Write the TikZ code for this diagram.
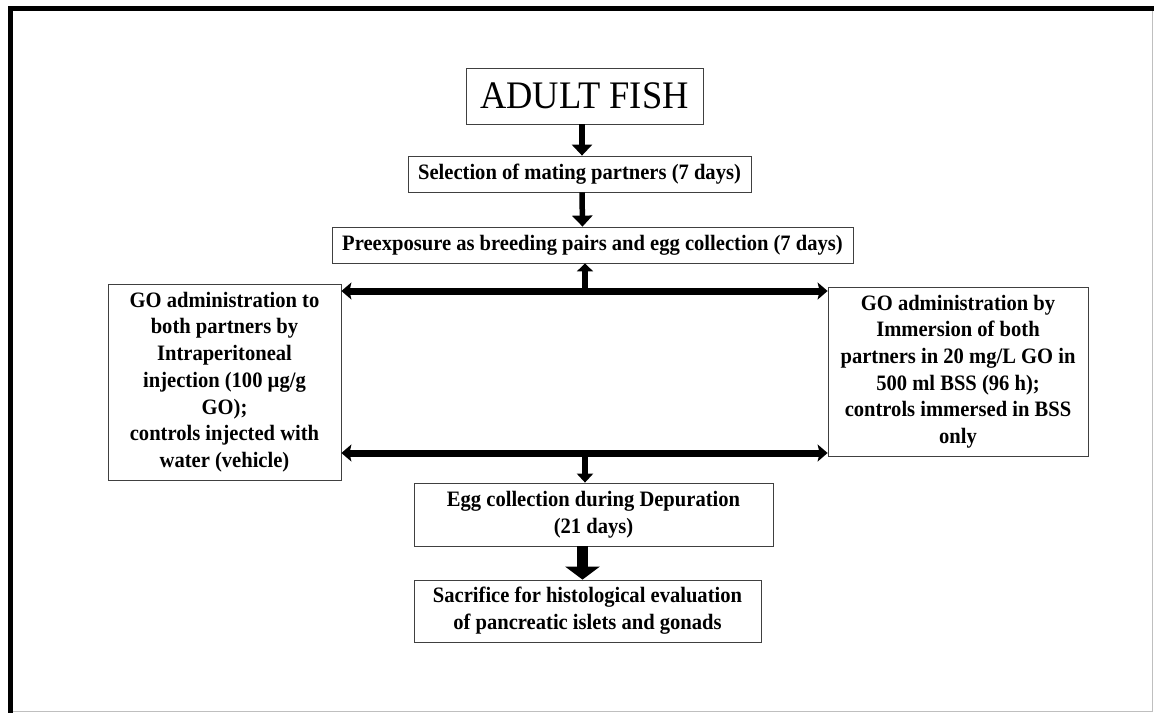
\documentclass[tikz,border=0pt]{standalone}
\usepackage{fontspec}
\setmainfont{Liberation Serif}[FakeStretch=0.935]
\usepackage{tikz}
\usetikzlibrary{arrows.meta,shapes}

\tikzset{
  stage/.style={draw=black!75,line width=0.8pt,shape=rectangle,align=center,inner sep=0pt,
    font=\fontsize{22}{26.7}\selectfont\bfseries},
  downarrow/.style={-{Triangle[length=11pt,width=20pt]},line width=5.5pt},
  bigarrow/.style={-{Triangle[length=13pt,width=34pt]},line width=11pt},
  splitarrow/.style={{Stealth[length=10pt,width=17pt,inset=2pt]}-{Stealth[length=10pt,width=17pt,inset=2pt]},line width=7pt}
}

\begin{document}
\begin{tikzpicture}[x=1pt,y=-1pt]
\useasboundingbox (0,0) rectangle (1154,713);

\draw [line width=4.6pt] (1154,8.3) -- (10.6,8.3) -- (10.6,713);
\draw [black!25,line width=1pt] (13,711.5) -- (1152.5,711.5) -- (1152.5,10.6);

\node (fish) at (584.5,96) [stage,minimum width=237pt,minimum height=56pt,font=\fontsize{39}{42}\selectfont] {ADULT FISH};
\node (select) at (579.5,174) [stage,minimum width=343pt,minimum height=36pt] {Selection of mating partners (7 days)};
\node (preexp) at (592.5,245) [stage,minimum width=521pt,minimum height=36pt] {Preexposure as breeding pairs and egg collection (7 days)};

\node (injectgo) at (224.5,382) [stage,minimum width=233pt,minimum height=196pt] {GO administration to\\both partners by\\Intraperitoneal\\injection (100 µg/g\\GO);\\controls injected with\\water (vehicle)};
\node (immersego) at (958,371.5) [stage,minimum width=260pt,minimum height=169pt] {GO administration by\\Immersion of both\\partners in 20 mg/L GO in\\500 ml BSS (96 h);\\controls immersed in BSS\\only};

\node (eggdep) at (593.5,514.5) [stage,minimum width=359pt,minimum height=63pt] {Egg collection during Depuration\\(21 days)};
\node (sacrifice) at (587.5,611) [stage,minimum width=347pt,minimum height=62pt] {Sacrifice for histological evaluation\\of pancreatic islets and gonads};

\coordinate (topjoin) at (585,291);
\coordinate (botjoin) at (585,453);

\draw [downarrow] ([xshift=-2.5pt]fish.south) -- ([xshift=2.5pt]select.north);
\draw [downarrow] ([xshift=2.5pt]select.south) -- ([xshift=-10pt]preexp.north);

\draw [splitarrow] (topjoin -| injectgo.east) -- (topjoin -| immersego.west);
\draw [downarrow,-{Triangle[length=8pt,width=16pt]}] (topjoin) -- (topjoin |- preexp.south);

\draw [splitarrow] (botjoin -| injectgo.east) -- (botjoin -| immersego.west);
\draw [downarrow,-{Triangle[length=9pt,width=16pt]}] (botjoin) -- (botjoin |- eggdep.north);

\draw [bigarrow] ([xshift=-11pt]eggdep.south) -- ([xshift=-5pt]sacrifice.north);
\end{tikzpicture}
\end{document}
